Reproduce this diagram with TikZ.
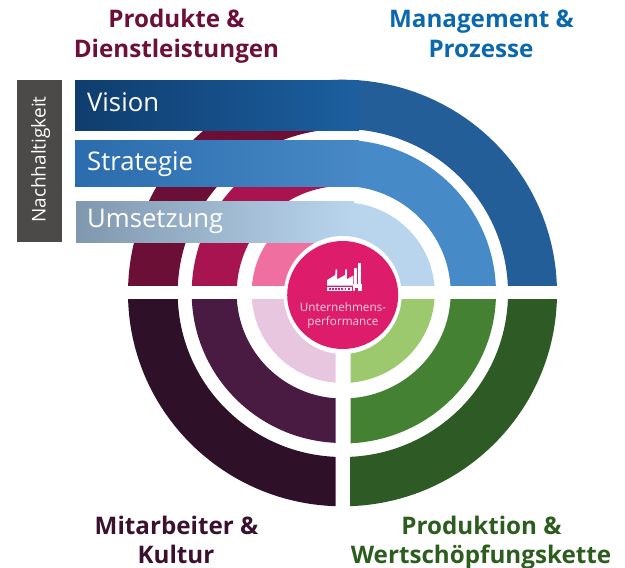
\documentclass[tikz,border=0pt]{standalone}
\usepackage{fontspec}
\setmainfont{Open Sans}
\definecolor{rA}{HTML}{6B0F36}\definecolor{rB}{HTML}{A8144F}\definecolor{rC}{HTML}{EF6FA0}
\definecolor{pA}{HTML}{2F1029}\definecolor{pB}{HTML}{4A1B42}\definecolor{pC}{HTML}{E9C6E0}
\definecolor{gA}{HTML}{2E5A26}\definecolor{gB}{HTML}{448133}\definecolor{gC}{HTML}{9DC96E}
\definecolor{bA}{HTML}{235E98}\definecolor{bB}{HTML}{478AC8}\definecolor{bC}{HTML}{B9D5EE}
\definecolor{core}{HTML}{DD1C6B}
\definecolor{tR}{HTML}{6D1039}\definecolor{tB}{HTML}{0B68AD}\definecolor{tP}{HTML}{3A1230}\definecolor{tG}{HTML}{2D5C1F}
\definecolor{vL}{HTML}{0F3D6E}\definecolor{vM}{HTML}{1A5492}\definecolor{vR}{HTML}{1C5FA0}
\definecolor{sL}{HTML}{2A6CAD}\definecolor{sM}{HTML}{387FC2}\definecolor{sR}{HTML}{4888C6}
\definecolor{uL}{HTML}{8098AE}\definecolor{uM}{HTML}{AECDEB}\definecolor{uR}{HTML}{B9D5EE}
\definecolor{side}{HTML}{4C4A48}
\newcommand{\ringpart}[9]{% colour, rox, roy, rix, riy, x0,y0,x1,y1
  \begin{scope}
    \clip (#6,#7) rectangle (#8,#9);
    \fill[#1,even odd rule] (342.7,293) circle[x radius=#2,y radius=#3] (342.7,293) circle[x radius=#4,y radius=#5];
  \end{scope}}
\tikzset{
  title/.style={font=\fontsize{24.2}{24.2}\selectfont\bfseries,anchor=base},
  barlabel/.style={font=\fontsize{25.7}{25.7}\selectfont,text=white,anchor=base west,inner sep=0pt},
  corelabel/.style={font=\fontsize{11.7}{11.7}\selectfont,text=white!80!core,anchor=base,inner sep=0pt}
}
\begin{document}
\begin{tikzpicture}[x=1pt,y=-1pt]
\useasboundingbox (0,0) rectangle (625,568);
% top-left
\ringpart{rA}{214.7}{213.3}{165}{164}{100}{60}{342.7}{285}
\ringpart{rB}{151}{153}{106}{107}{100}{60}{342.7}{285}
\ringpart{rC}{91}{91}{50}{50}{100}{60}{342.7}{285}
% top-right
\ringpart{bA}{214.3}{213.3}{165.3}{164}{342.7}{60}{580}{285}
\ringpart{bB}{153.3}{153}{108}{107}{342.7}{60}{580}{285}
\ringpart{bC}{92}{90.7}{50}{50}{342.7}{60}{580}{285}
% bottom-left
\ringpart{pA}{214.7}{213.3}{165}{164}{100}{299}{335.5}{530}
\ringpart{pB}{151}{150}{106}{105.5}{100}{299}{335.5}{530}
\ringpart{pC}{91}{90}{50}{50}{100}{299}{335.5}{530}
% bottom-right
\ringpart{gA}{214.3}{213.3}{165.3}{164}{350}{299}{580}{530}
\ringpart{gB}{153.3}{150.5}{108}{105.5}{350.5}{299}{580}{530}
\ringpart{gC}{92}{90}{50}{50}{350.5}{299}{580}{530}
% bars
\shade[left color=vL,middle color=vM,right color=vR] (75,80) rectangle (359,130);
\shade[left color=sL,middle color=sM,right color=sR] (75,140) rectangle (359,186);
\shade[left color=uL,middle color=uM,right color=uR] (76,201) rectangle (354,242);
% centre
\fill[white] (342.7,295) circle[radius=59];
\fill[core] (342.7,295) circle[x radius=55.5,y radius=54];
% factory icon
\fill[white] (327.2,285.7) -- (327.2,280) -- (335.2,275) -- (335.6,269.3) -- (337.2,269.3) -- (337.2,279.3) -- (345,275) -- (345.3,269.3) -- (346.9,269.3) -- (346.9,279.3) -- (353.3,275.5) -- (353.3,285.7) -- cycle;
\fill[white] (354.2,268) rectangle (356.6,284);
\fill[white] (358,263) rectangle (361,284);
\fill[white] (327.2,286.8) rectangle (351.6,291);
\fill[white] (352.6,283.8) rectangle (361.7,291);
\foreach \i in {0,...,6}{\fill[core] (329+3.1*\i,288.1) rectangle ++(1.9,1.6);}
\fill[core] (354.5,287.5) rectangle (358,291);
% labels
\node[barlabel] (vision) at (87,111) {Vision};
\node[barlabel] (strategie) at (87,170) {Strategie};
\node[barlabel] (umsetzung) at (87,227) {Umsetzung};
\fill[side] (17,80) rectangle (62,242);
\node[rotate=90,font=\fontsize{19}{19}\selectfont,text=white,anchor=base,inner sep=0pt] (nachhaltigkeit) at (45.5,159.5) {Nachhaltigkeit};
\node[corelabel] (coreA) at (343,311) {Unternehmens-};
\node[corelabel] (coreB) at (343,325) {performance};
\node[title,text=tR] (tr1) at (176.5,27) {Produkte \&};
\node[title,text=tR] (tr2) at (176.5,57) {Dienstleistungen};
\node[title,text=tB] (tb1) at (481.5,27) {Management \&};
\node[title,text=tB] (tb2) at (481,57) {Prozesse};
\node[title,text=tP] (tp1) at (176.5,534) {Mitarbeiter \&};
\node[title,text=tP] (tp2) at (176,563) {Kultur};
\node[title,text=tG] (tg1) at (481.5,534) {Produktion \&};
\node[title,text=tG] (tg2) at (481,563) {Wertschöpfungskette};
\end{tikzpicture}
\end{document}
